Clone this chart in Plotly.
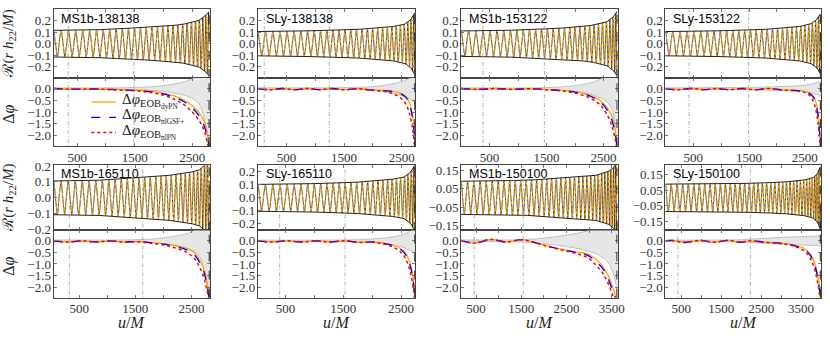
import numpy as np
import plotly.graph_objects as go

W, H = 830, 341

# ---- panels ----
panel_names = ["MS1b-138138", "SLy-138138", "MS1b-153122", "SLy-153122",
               "MS1b-165110", "SLy-165110", "MS1b-150100", "SLy-150100"]
u_start = [90, 0, 0, 0, 40, 20, 170, 100]
u_merger = [2790, 2728, 2738, 2778, 2818, 2738, 3612, 3982]
u_end = [2810, 2740, 2750, 2790, 2836, 2750, 3630, 4000]
u_fit_lo = [345, 112, 383, 426, 323, 398, 461, 416]
u_fit_hi = [1483, 1243, 1462, 1493, 1633, 1531, 1543, 2232]
h_lim = [0.3, 0.3, 0.3, 0.3, 0.205, 0.25, 0.177, 0.21]
h_ticks_a = [-0.2, -0.1, 0.0, 0.1, 0.2]
h_ticks_b = [-0.15, -0.05, 0.05, 0.15]
u_ticks_a = [500, 1500, 2500]
u_ticks_b = [500, 1500, 2500, 3500]
dphi_ticks = [0.0, -0.5, -1.0, -1.5, -2.0]

# amplitude |h22| read at times before merger
tm_amp = [4000, 2000, 1000, 500, 200, 80, 0]
amp_knots = [
    [0.11, 0.12, 0.145, 0.165, 0.195, 0.235, 0.28],
    [0.10, 0.11, 0.125, 0.14, 0.165, 0.2, 0.27],
    [0.105, 0.115, 0.135, 0.155, 0.185, 0.225, 0.28],
    [0.10, 0.11, 0.125, 0.14, 0.165, 0.2, 0.26],
    [0.10, 0.11, 0.13, 0.15, 0.17, 0.2, 0.25],
    [0.10, 0.105, 0.12, 0.135, 0.155, 0.19, 0.25],
    [0.088, 0.095, 0.11, 0.12, 0.14, 0.16, 0.2],
    [0.088, 0.092, 0.10, 0.11, 0.125, 0.15, 0.2],
]
# GW frequency M*omega at times before merger
tm_omega = [5000, 3000, 2000, 1000, 500, 200, 80, 0]
omega_knots = [0.039, 0.046, 0.053, 0.064, 0.076, 0.093, 0.113, 0.155]

# phase differences
u_dphi = [
    [90, 400, 800, 1200, 1600, 1900, 2200, 2400, 2550, 2650, 2720, 2770, 2800],
    [0, 200, 420, 640, 860, 1080, 1300, 1520, 1740, 1960, 2180, 2350, 2480, 2580, 2650, 2700, 2735],
    [0, 300, 600, 900, 1200, 1500, 1800, 2100, 2300, 2450, 2560, 2640, 2700, 2740],
    [0, 230, 460, 690, 920, 1150, 1380, 1610, 1840, 2070, 2300, 2460, 2580, 2660, 2720, 2760, 2785],
    [40, 300, 550, 800, 1050, 1300, 1550, 1800, 2000, 2200, 2400, 2550, 2650, 2730, 2790, 2830],
    [20, 270, 520, 770, 1020, 1270, 1520, 1770, 2020, 2200, 2350, 2470, 2570, 2650, 2710, 2745],
    [170, 461, 827, 1155, 1521, 1885, 2250, 2616, 2800, 2980, 3150, 3300, 3420, 3520, 3600],
    [100, 266, 578, 972, 1305, 1680, 1967, 2215, 2560, 2900, 3150, 3350, 3553, 3720, 3850, 3940, 3990],
]
dphi_dypn = [
    [0.0, -0.03, -0.02, -0.04, -0.08, -0.15, -0.32, -0.55, -0.85, -1.15, -1.5, -2.0, -2.5],
    [0.0, -0.05, 0.0, -0.05, 0.0, -0.05, 0.0, -0.05, 0.0, -0.06, -0.08, -0.12, -0.2, -0.35, -0.7, -1.3, -2.3],
    [0.0, -0.04, 0.0, -0.04, 0.0, -0.05, -0.08, -0.18, -0.32, -0.52, -0.8, -1.15, -1.7, -2.5],
    [0.0, -0.05, 0.0, -0.05, 0.0, -0.05, 0.0, -0.05, 0.0, -0.05, -0.07, -0.1, -0.18, -0.35, -0.8, -1.6, -2.5],
    [0.0, -0.05, 0.0, -0.05, 0.0, -0.05, -0.02, -0.08, -0.12, -0.2, -0.32, -0.5, -0.85, -1.25, -1.9, -2.6],
    [0.0, -0.05, 0.0, -0.05, 0.0, -0.05, 0.0, -0.06, -0.05, -0.1, -0.18, -0.3, -0.5, -0.9, -1.6, -2.5],
    [0.02, -0.1, 0.06, -0.05, 0.05, -0.12, -0.3, -0.45, -0.5, -0.58, -0.8, -1.1, -1.5, -2.0, -2.5],
    [0.0, 0.02, -0.07, 0.02, -0.06, 0.02, -0.06, 0.0, -0.05, -0.08, -0.12, -0.2, -0.3, -0.55, -1.0, -1.7, -2.5],
]
dphi_nlgsf = [
    [0.0, -0.03, -0.02, -0.05, -0.10, -0.18, -0.38, -0.63, -0.95, -1.3, -1.7, -2.2, -2.6],
    [0.0, -0.05, 0.0, -0.05, 0.0, -0.05, 0.0, -0.05, 0.0, -0.06, -0.09, -0.13, -0.22, -0.4, -0.8, -1.45, -2.5],
    [0.0, -0.04, 0.0, -0.04, 0.0, -0.05, -0.09, -0.2, -0.36, -0.58, -0.9, -1.3, -1.85, -2.6],
    [0.0, -0.05, 0.0, -0.05, 0.0, -0.05, 0.0, -0.05, 0.0, -0.05, -0.08, -0.11, -0.2, -0.4, -0.9, -1.75, -2.6],
    [0.0, -0.05, 0.0, -0.05, 0.0, -0.05, -0.03, -0.09, -0.14, -0.24, -0.38, -0.6, -0.95, -1.4, -2.1, -2.7],
    [0.0, -0.05, 0.0, -0.05, 0.0, -0.05, 0.0, -0.06, -0.05, -0.11, -0.2, -0.34, -0.56, -1.0, -1.75, -2.6],
    [0.02, -0.1, 0.06, -0.05, 0.05, -0.12, -0.31, -0.47, -0.53, -0.64, -0.9, -1.2, -1.65, -2.15, -2.6],
    [0.0, 0.02, -0.07, 0.02, -0.06, 0.02, -0.06, 0.0, -0.05, -0.09, -0.14, -0.22, -0.34, -0.6, -1.1, -1.85, -2.6],
]
dphi_nlpn = [
    [0.0, -0.03, -0.03, -0.06, -0.12, -0.22, -0.47, -0.78, -1.15, -1.5, -1.9, -2.4, -2.7],
    [0.0, -0.05, 0.0, -0.05, 0.0, -0.05, 0.0, -0.05, -0.01, -0.07, -0.12, -0.22, -0.4, -0.7, -1.2, -1.9, -2.7],
    [0.0, -0.04, 0.0, -0.04, -0.01, -0.06, -0.11, -0.26, -0.45, -0.72, -1.1, -1.55, -2.1, -2.7],
    [0.0, -0.05, 0.0, -0.05, 0.0, -0.05, 0.0, -0.05, 0.0, -0.06, -0.09, -0.14, -0.28, -0.6, -1.2, -2.0, -2.7],
    [0.0, -0.05, 0.0, -0.05, 0.0, -0.06, -0.04, -0.11, -0.18, -0.3, -0.48, -0.75, -1.15, -1.65, -2.3, -2.8],
    [0.0, -0.05, 0.0, -0.05, 0.0, -0.05, 0.0, -0.07, -0.06, -0.14, -0.26, -0.44, -0.72, -1.25, -2.0, -2.8],
    [0.02, -0.1, 0.06, -0.05, 0.05, -0.13, -0.33, -0.5, -0.6, -0.75, -1.05, -1.4, -1.85, -2.35, -2.7],
    [0.0, 0.02, -0.07, 0.02, -0.06, 0.02, -0.06, 0.0, -0.06, -0.1, -0.16, -0.25, -0.4, -0.72, -1.3, -2.05, -2.7],
]
# NR phase uncertainty band (half width)
u_band = [
    [90, 1400, 1900, 2200, 2400, 2550, 2650, 2720, 2810],
    [0, 1500, 2000, 2300, 2500, 2650, 2740],
    [0, 1500, 1900, 2200, 2400, 2550, 2650, 2700, 2750],
    [0, 1500, 2000, 2400, 2600, 2700, 2790],
    [40, 1500, 1900, 2200, 2400, 2550, 2650, 2730, 2836],
    [20, 1500, 2000, 2300, 2500, 2650, 2750],
    [170, 1500, 2000, 2500, 2900, 3200, 3400, 3550, 3630],
    [100, 2000, 2500, 3000, 3500, 3800, 4000],
]
band_w = [
    [0.03, 0.04, 0.1, 0.2, 0.32, 0.5, 0.8, 1.5, 3.0],
    [0.03, 0.04, 0.08, 0.18, 0.3, 0.45, 0.6],
    [0.03, 0.04, 0.1, 0.2, 0.35, 0.55, 0.9, 1.6, 3.0],
    [0.03, 0.05, 0.08, 0.12, 0.18, 0.25, 0.3],
    [0.04, 0.05, 0.1, 0.2, 0.3, 0.45, 0.7, 1.3, 3.0],
    [0.03, 0.04, 0.08, 0.15, 0.25, 0.4, 0.55],
    [0.04, 0.05, 0.12, 0.25, 0.4, 0.6, 0.9, 1.5, 2.5],
    [0.03, 0.05, 0.1, 0.15, 0.18, 0.2, 0.22],
]

legend_names = ["Δ<i>φ</i><sub>EOB<sub>dyPN</sub></sub>",
                "Δ<i>φ</i><sub>EOB<sub>nlGSF+</sub></sub>",
                "Δ<i>φ</i><sub>EOB<sub>nlPN</sub></sub>"]

# ---- layout geometry (pixels) ----
col_px = [(54, 212), (260, 419), (465, 623), (671, 828)]
row_px = [((2.5, 74), (74, 145)), ((165, 233), (233, 303))]

SERIF = "Liberation Serif"
ORANGE, BLUE, RED = "#FFA500", "#0000FF", "#FF0000"
FRAME = "#444444"
TICKC = "#333333"
model_styles = [dict(color=ORANGE, width=1.3),
                dict(color=BLUE, width=1.3, dash="dash"),
                dict(color=RED, width=1.5, dash="dot")]


def xd(a, b):
    return [a / W, b / W]


def yd(top, bot):
    return [1 - bot / H, 1 - top / H]


fig = go.Figure()
layout = dict(width=W, height=H, margin=dict(l=0, r=0, t=0, b=0), showlegend=False,
              plot_bgcolor="white", paper_bgcolor="white",
              font=dict(family=SERIF, size=13, color=TICKC))
shapes, annots = [], []
tfont = dict(family=SERIF, size=13, color=TICKC)

for p in range(8):
    r, c = divmod(p, 4)
    nt, nb = 2 * p + 1, 2 * p + 2
    xt, xb = ("x" if nt == 1 else f"x{nt}"), f"x{nb}"
    yt, yb = ("y" if nt == 1 else f"y{nt}"), f"y{nb}"
    (t0, t1), (b0, b1) = row_px[r]
    c0, c1 = col_px[c]

    # waveform
    u = np.linspace(u_start[p], u_merger[p], 3000)
    tm = u_merger[p] - u
    amp = np.interp(tm, tm_amp[::-1], amp_knots[p][::-1])
    om = np.interp(tm, tm_omega[::-1], omega_knots[::-1])
    phase = np.concatenate([[0], np.cumsum(0.5 * (om[1:] + om[:-1]) * np.diff(u))])
    dphi = np.interp(u, u_dphi[p], dphi_dypn[p])
    fig.add_trace(go.Scatter(x=u, y=amp * np.cos(phase), mode="lines", xaxis=xt, yaxis=yt,
                             line=dict(color="black", width=0.7), hoverinfo="skip"))
    fig.add_trace(go.Scatter(x=u, y=amp * np.cos(phase + dphi), mode="lines", xaxis=xt, yaxis=yt,
                             line=dict(color=ORANGE, width=1, dash="3px,2px"), hoverinfo="skip"))
    for s in (1, -1):
        fig.add_trace(go.Scatter(x=u, y=s * amp, mode="lines", xaxis=xt, yaxis=yt,
                                 line=dict(color="#222222", width=1), hoverinfo="skip"))

    # band
    wb = np.array(band_w[p])
    fig.add_trace(go.Scatter(x=u_band[p], y=-wb, mode="lines", xaxis=xb, yaxis=yb, line_shape="spline",
                             line=dict(color="#b5b5b5", width=0.8), hoverinfo="skip"))
    fig.add_trace(go.Scatter(x=u_band[p], y=wb, mode="lines", xaxis=xb, yaxis=yb, line_shape="spline",
                             fill="tonexty", fillcolor="#e6e6e6",
                             line=dict(color="#b5b5b5", width=0.8), hoverinfo="skip"))
    for vals, sty, nm in zip((dphi_dypn[p], dphi_nlgsf[p], dphi_nlpn[p]), model_styles, legend_names):
        fig.add_trace(go.Scatter(x=u_dphi[p], y=vals, mode="lines", xaxis=xb, yaxis=yb, line_shape="spline",
                                 line=sty, name=nm))

    uticks = u_ticks_b if p >= 6 else u_ticks_a
    hticks = h_ticks_b if p >= 6 else h_ticks_a
    common = dict(showline=True, linecolor=FRAME, linewidth=1, mirror="ticks", ticks="inside",
                  ticklen=3, tickcolor="#777777", showgrid=False, zeroline=False, tickfont=tfont)
    xminor = dict(ticks="inside", ticklen=3, tickcolor="#777777", tick0=0, dtick=500)
    layout["xaxis" if nt == 1 else f"xaxis{nt}"] = dict(
        domain=xd(c0, c1), range=[u_start[p], u_end[p]], anchor=yt, tickvals=uticks,
        showticklabels=False, minor=xminor, **common)
    layout[f"xaxis{nb}"] = dict(
        domain=xd(c0, c1), range=[u_start[p], u_end[p]], anchor=yb, tickvals=uticks,
        ticklabelstandoff=-1, minor=xminor, **common)
    layout["yaxis" if nt == 1 else f"yaxis{nt}"] = dict(
        domain=yd(t0, t1), range=[-h_lim[p], h_lim[p]], anchor=xt, tickvals=hticks,
        tickformat=".2f" if p >= 6 else ".1f", ticklabelstandoff=-1, **common)
    layout[f"yaxis{nb}"] = dict(
        domain=yd(b0, b1), range=[-2.45, 0.45], anchor=xb, tickvals=dphi_ticks,
        tickformat=".1f", ticklabelstandoff=-1, **common)

    for ax_x, ax_y in ((xt, yt), (xb, yb)):
        for uf in (u_fit_lo[p], u_fit_hi[p]):
            shapes.append(dict(type="line", xref=ax_x, yref=f"{ax_y} domain", x0=uf, x1=uf, y0=0, y1=1,
                               line=dict(color="#a0a0a0", width=0.8, dash="1px,2px,4px,2px")))
        shapes.append(dict(type="line", xref=ax_x, yref=f"{ax_y} domain", x0=u_merger[p], x1=u_merger[p],
                           y0=0, y1=1, line=dict(color="#222222", width=1, dash="dash")))

    annots.append(dict(text=panel_names[p], xref="paper", yref="paper", x=(c0 + 6) / W, y=1 - (t0 + 9.5) / H,
                       xanchor="left", yanchor="middle", showarrow=False,
                       font=dict(family="Liberation Sans", size=12.5, color="black")))
    if c == 0:
        annots.append(dict(text="ℛ(<i>r h</i><sub>22</sub>/<i>M</i>)", xref="paper", yref="paper",
                           x=9 / W, y=1 - (t0 + t1) / 2 / H, textangle=-90, showarrow=False,
                           xanchor="center", yanchor="middle", font=dict(family=SERIF, size=15, color="#222")))
        annots.append(dict(text="Δ<i>φ</i>", xref="paper", yref="paper",
                           x=9 / W, y=1 - ((b0 + b1) / 2 + 2) / H, textangle=-90, showarrow=False,
                           xanchor="center", yanchor="middle", font=dict(family=SERIF, size=16, color="#222")))
    if r == 1:
        annots.append(dict(text="<i>u</i>/<i>M</i>", xref="paper", yref="paper", x=(c0 + c1) / 2 / W,
                           y=1 - 329 / H, xanchor="center", yanchor="middle", showarrow=False,
                           font=dict(family=SERIF, size=16, color="#222")))

# legend drawn inside the first phase panel
leg_y = [99, 115, 131]
for yy, sty, nm in zip(leg_y, model_styles, legend_names):
    shapes.append(dict(type="line", xref="paper", yref="paper", x0=92 / W, x1=117 / W,
                       y0=1 - yy / H, y1=1 - yy / H, line=sty))
    annots.append(dict(text=nm, xref="paper", yref="paper", x=121 / W, y=1 - (yy - 1) / H,
                       xanchor="left", yanchor="middle", showarrow=False,
                       font=dict(family=SERIF, size=15, color="#222")))

layout["shapes"] = shapes
layout["annotations"] = annots
fig.update_layout(**layout)

# the page body has a default margin; drop it so the figure fills the window
fig.write_html("out.html", config={"displayModeBar": False},
               post_script="document.body.style.margin='0';")
